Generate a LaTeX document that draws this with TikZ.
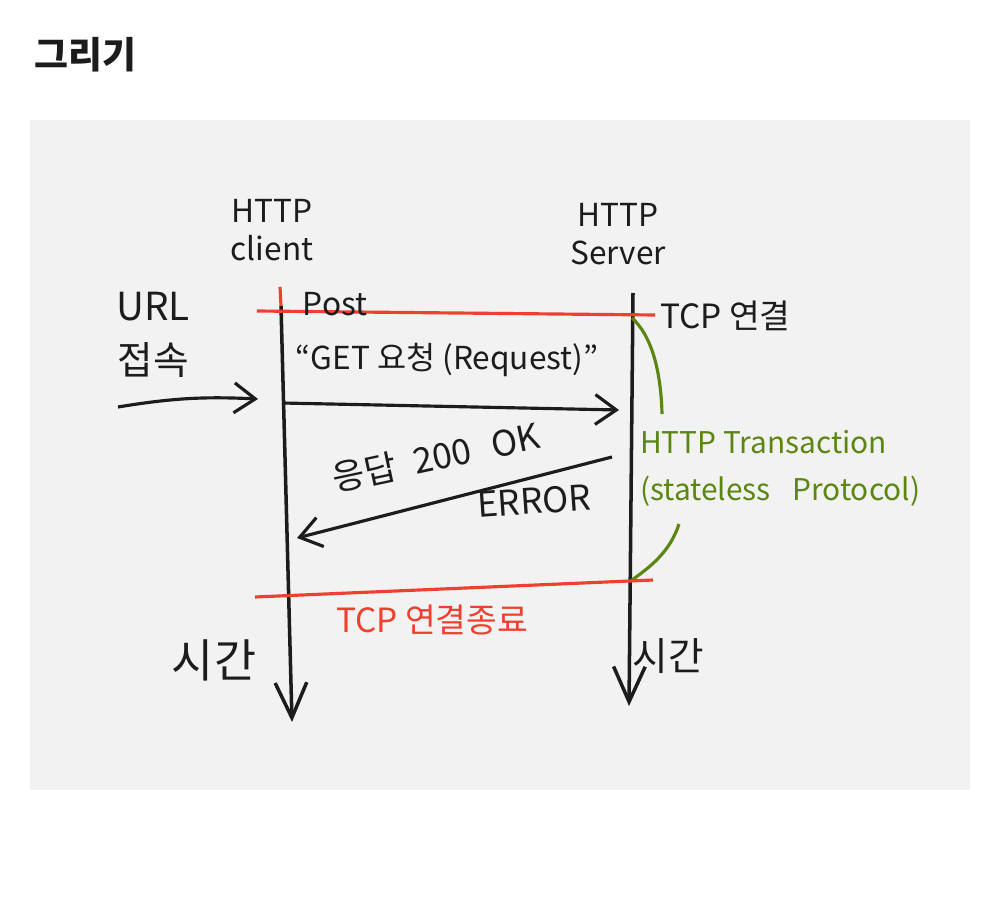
\documentclass[tikz,border=0pt]{standalone}
\usepackage{fontspec}
\setmainfont{Noto Sans CJK KR}
\usetikzlibrary{arrows.meta,positioning}
\definecolor{penRed}{RGB}{238,64,48}
\definecolor{penGreen}{RGB}{92,134,18}
\definecolor{penInk}{RGB}{28,28,28}
\definecolor{paperGray}{RGB}{242,242,242}

\begin{document}
\begin{tikzpicture}[
    x=0.02cm, y=-0.02cm,
    font=\fontsize{18}{22}\selectfont,
    inkTxt/.style={
        text=penInk, inner sep=1pt, align=center
    },
    redTxt/.style={
        text=penRed, inner sep=1pt, align=center
    },
    greenTxt/.style={
        text=penGreen, inner sep=1pt, align=left, font=\fontsize{17}{27}\selectfont
    },
    lifeline/.style={
        draw=penInk, line width=2pt, -{Straight Barb[length=20pt, width=18pt, line width=2pt]}
    },
    msg/.style={
        draw=penInk, line width=1.8pt, -{Straight Barb[length=12pt, width=17pt, line width=1.8pt]}
    },
    redLine/.style={
        draw=penRed, line width=1.8pt
    },
    greenLine/.style={
        draw=penGreen, line width=1.8pt
    }
]

\useasboundingbox (0,0) rectangle (1000,905);

% Title and paper
\node[anchor=west, text=penInk, font=\fontsize{21}{24}\selectfont\bfseries] (title) at (28,55) {그리기};
\fill[paperGray] (30,120) rectangle (970,790);

% Participants
\node[inkTxt] (client) at (272,230) {HTTP\\client};
\node[inkTxt] (server) at (618,234) {HTTP\\Server};

\coordinate (cTop) at (281,306);
\coordinate (cBot) at (292,722);
\coordinate (sTop) at (633,293);
\coordinate (sBot) at (629,706);

\draw[lifeline] (cTop) -- (cBot);
\draw[lifeline] (sTop) -- (sBot);

% TCP connect
\coordinate (openL) at (257,311);
\coordinate (openR) at (655,315);
\coordinate (tick) at (280,287);
\draw[redLine] (openL) -- (openR);
\draw[redLine] (tick) -- (cTop);
\node[inkTxt, anchor=west, font=\fontsize{19}{22}\selectfont] (tcpOpen) at (658,316) {TCP 연결};

% URL access
\node[inkTxt, font=\fontsize{22}{31}\selectfont] (url) at (153,335) {URL\\접속};
\coordinate (urlFrom) at (118,407);
\coordinate (urlTo) at (258,399);
\draw[msg] (urlFrom) to[bend left=6] (urlTo);

% Request
\node[inkTxt] (post) at (335,304) {Post};
\node[inkTxt] (getReq) at (447,360) {“GET 요청 (Request)”};
\coordinate (reqFrom) at (282,403);
\coordinate (reqTo) at (619,410);
\draw[msg] (reqFrom) -- (reqTo);

% Response
\coordinate (resFrom) at (612,457);
\coordinate (resTo) at (297,538);
\draw[msg] (resFrom) -- (resTo);
\node[inkTxt, rotate=12, font=\fontsize{20}{22}\selectfont] (resOk) at (436,457) {응답\hspace{0.5em}200\hspace{0.6em}OK};
\node[inkTxt, rotate=4, font=\fontsize{20}{22}\selectfont] (resErr) at (534,501) {ERROR};

% Transaction bracket
\node[greenTxt, anchor=north west] (trans) at (638,428) {HTTP Transaction\\(stateless\hspace{0.5em} Protocol)};
\coordinate (txTop) at (632,318);
\coordinate (txTopEnd) at (662,414);
\coordinate (txBot) at (632,580);
\coordinate (txBotEnd) at (679,524);
\draw[greenLine] (txTop) .. controls (652,336) and (661,372) .. (txTopEnd);
\draw[greenLine] (txBotEnd) .. controls (670,552) and (650,567) .. (txBot);

% TCP close
\coordinate (closeL) at (255,597);
\coordinate (closeR) at (653,580);
\draw[redLine] (closeL) -- (closeR);
\node[redTxt, font=\fontsize{19}{22}\selectfont] (tcpClose) at (432,620) {TCP 연결종료};

% Time axes
\node[inkTxt, font=\fontsize{26}{28}\selectfont] (timeC) at (214,660) {시간};
\node[inkTxt, font=\fontsize{22}{26}\selectfont] (timeS) at (668,656) {시간};

\end{tikzpicture}
\end{document}
